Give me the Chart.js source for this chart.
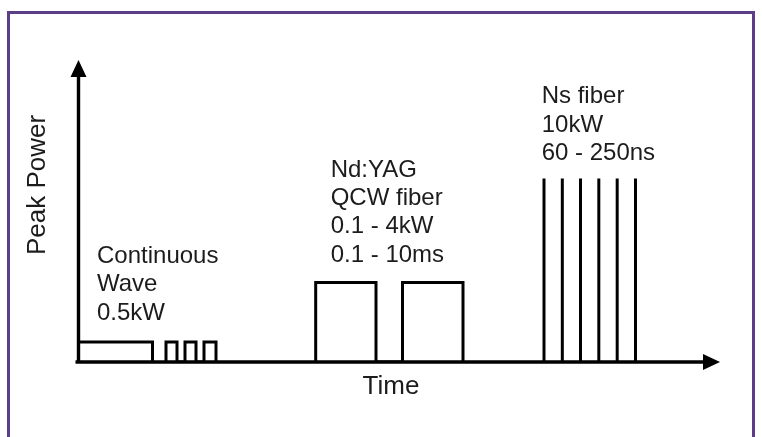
<!DOCTYPE html>
<html>
<head>
<meta charset="utf-8">
<script src="https://cdn.jsdelivr.net/npm/chart.js@4.4.1/dist/chart.umd.min.js"></script>
<style>
  html, body { margin: 0; padding: 0; background: #ffffff; }
  #frame { position: absolute; left: 7px; top: 11px; width: 742px; height: 450px;
           border: 3px solid #5c3d87; border-bottom: none; }
  #wrap { position: absolute; left: 0; top: 0; width: 762px; height: 437px; }
</style>
</head>
<body>
<div id="frame"></div>
<div id="wrap"><canvas id="c" width="762" height="437"></canvas></div>
<script>
// ---- Axis titles ----
const timeAxisTitle = 'Time';
const powerAxisTitle = 'Peak Power';

// ---- Continuous wave (one long block) ----
const cwStart = [0];
const cwEnd = [11.84];
const cwPeak = [5.65];

// ---- Modulated CW pulses ----
const modStart = [14.0, 17.04, 20.08];
const modEnd = [15.76, 18.8, 22.0];
const modPeak = [5.65, 5.65, 5.65];

// ---- Nd:YAG / QCW fiber pulses ----
const qcwStart = [37.95, 51.84];
const qcwEnd = [47.6, 61.52];
const qcwPeak = [22.46, 22.46];

// ---- Ns fiber pulses ----
const nsTime = [74.48, 77.41, 80.32, 83.25, 86.19, 89.12];
const nsPeak = [51.84, 51.84, 51.84, 51.84, 51.84, 51.84];

// ---- Axis extents (arrow tips) ----
const timeAxisEnd = 102.64;
const powerAxisEnd = 85.31;

// ---- Notes ----
const cwNote = ['Continuous', 'Wave', '0.5kW'];
const qcwNote = ['Nd:YAG', 'QCW fiber', '0.1 - 4kW', '0.1 - 10ms'];
const nsNote = ['Ns fiber', '10kW', '60 - 250ns'];

function blockPath(starts, ends, peaks) {
  const pts = [];
  starts.forEach((s, i) => {
    pts.push({x: s, y: 0}, {x: s, y: peaks[i]}, {x: ends[i], y: peaks[i]}, {x: ends[i], y: 0});
  });
  return pts;
}
function spikePath(times, peaks) {
  const pts = [];
  times.forEach((t, i) => {
    pts.push({x: t, y: 0}, {x: t, y: peaks[i]}, {x: t, y: null});
  });
  return pts;
}

const FONT = "'Liberation Sans', Arial, Helvetica, sans-serif";
const INK = '#1c1c1c';
Chart.defaults.font.family = FONT;

const schematic = {
  id: 'schematic',
  beforeDatasetsDraw(chart, args, opts) {
    const {ctx, scales: {x, y}} = chart;
    const x0 = x.getPixelForValue(0), y0 = y.getPixelForValue(0);
    const xe = x.getPixelForValue(opts.timeEnd), ye = y.getPixelForValue(opts.powerEnd);
    ctx.save();
    ctx.strokeStyle = '#000';
    ctx.fillStyle = '#000';
    ctx.lineWidth = 3.4;
    ctx.beginPath();
    ctx.moveTo(x0 - 3, y0); ctx.lineTo(xe - 12, y0);
    ctx.moveTo(x0, y0 + 1.5); ctx.lineTo(x0, ye + 12);
    ctx.stroke();
    ctx.beginPath();
    ctx.moveTo(xe, y0); ctx.lineTo(xe - 17, y0 - 8); ctx.lineTo(xe - 17, y0 + 8); ctx.closePath(); ctx.fill();
    ctx.beginPath();
    ctx.moveTo(x0, ye); ctx.lineTo(x0 - 8, ye + 17); ctx.lineTo(x0 + 8, ye + 17); ctx.closePath(); ctx.fill();
    ctx.restore();
  },
  afterDatasetsDraw(chart, args, opts) {
    const {ctx, scales: {x, y}} = chart;
    ctx.save();
    ctx.fillStyle = INK;
    ctx.font = '24px ' + FONT;
    ctx.textAlign = 'left';
    ctx.textBaseline = 'alphabetic';
    opts.notes.forEach(n => {
      const px = x.getPixelForValue(n.time);
      const py = y.getPixelForValue(n.power);
      n.lines.forEach((line, i) => ctx.fillText(line, px, py + i * 28.3));
    });
    ctx.restore();
  }
};

const lineStyle = {showLine: true, borderColor: '#000', borderWidth: 3, pointRadius: 0,
                   tension: 0, fill: false, spanGaps: false, borderJoinStyle: 'miter'};

new Chart(document.getElementById('c'), {
  type: 'scatter',
  data: {
    datasets: [
      Object.assign({label: 'Continuous Wave', data: blockPath(cwStart, cwEnd, cwPeak)}, lineStyle),
      Object.assign({label: 'Modulated', data: blockPath(modStart, modEnd, modPeak)}, lineStyle),
      Object.assign({label: 'Nd:YAG / QCW fiber', data: blockPath(qcwStart, qcwEnd, qcwPeak)}, lineStyle),
      Object.assign({label: 'Ns fiber', data: spikePath(nsTime, nsPeak)}, lineStyle)
    ]
  },
  options: {
    responsive: false,
    animation: false,
    events: [],
    layout: {padding: {left: 0, right: 58.5, top: 8, bottom: 34.8}},
    plugins: {
      legend: {display: false},
      tooltip: {enabled: false},
      schematic: {
        timeEnd: timeAxisEnd,
        powerEnd: powerAxisEnd,
        notes: [
          {lines: cwNote, time: 2.96, power: 27.97},
          {lines: qcwNote, time: 40.35, power: 52.34},
          {lines: nsNote, time: 74.11, power: 73.08}
        ]
      }
    },
    scales: {
      x: {
        type: 'linear', min: 0, max: 100,
        grid: {display: false, drawTicks: false},
        border: {display: false},
        ticks: {display: false},
        title: {display: true, text: timeAxisTitle, color: INK, font: {size: 26, family: FONT},
                padding: {top: 9, bottom: 0}}
      },
      y: {
        type: 'linear', min: 0, max: 100,
        grid: {display: false, drawTicks: false},
        border: {display: false},
        ticks: {display: false},
        title: {display: true, text: powerAxisTitle, color: INK, font: {size: 26, family: FONT},
                padding: {top: 22.4, bottom: 24.9}}
      }
    }
  },
  plugins: [schematic]
});
</script>
</body>
</html>
